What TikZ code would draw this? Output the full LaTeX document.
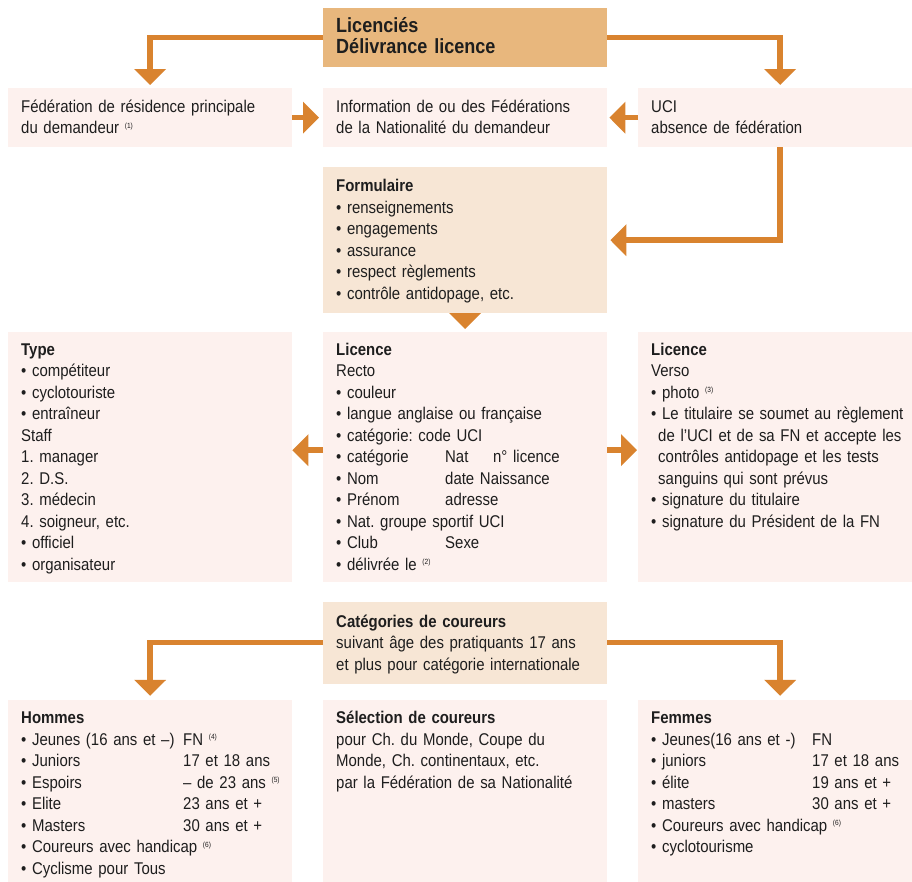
\documentclass[tikz,border=0pt]{standalone}
\usepackage{fontspec}
\setmainfont{Liberation Sans}[FakeStretch=0.88]
\usetikzlibrary{arrows.meta}

\definecolor{licorange}{HTML}{E8B77D}
\definecolor{licpeach}{HTML}{F7E6D5}
\definecolor{licpink}{HTML}{FDF1EE}
\definecolor{licarrow}{HTML}{D9832F}
\definecolor{licink}{HTML}{1E1E1E}

\newcommand{\fnmark}[1]{\raisebox{5.5pt}{\fontsize{7.5}{7.5}\selectfont(#1)}}
\newcommand{\tabline}[3]{\mbox{\makebox[#1][l]{#2}#3}}

\tikzset{
  panel/.style={anchor=north west, inner xsep=13pt, inner ysep=0pt, text width=258pt, align=left,
    text height=24pt, text=licink, font=\fontsize{17}{21.5}\selectfont\frenchspacing},
  headbox/.style={panel, fill=licorange, font=\fontsize{20.5}{21.7}\selectfont\bfseries},
  peachbox/.style={panel, fill=licpeach},
  pinkbox/.style={panel, fill=licpink},
  flow/.style={draw=licarrow, line width=5.5pt, -{Triangle[length=16pt, width=31pt]}},
}

\begin{document}
\begin{tikzpicture}[x=1pt, y=-1pt]
	\useasboundingbox (0,0) rectangle (912,881);
	% first rows
	\node (lic) [headbox, text depth=35pt] at (323,8) {Licenciés\\Délivrance licence};
	\node (fed) [pinkbox, text depth=35pt] at (8,88) {Fédération de résidence principale\\du demandeur \fnmark{1}};
	\node (info) [pinkbox, text depth=35pt] at (323,88) {Information de ou des Fédérations\\de la Nationalité du demandeur};
	\node (uci) [pinkbox, text depth=35pt] at (638,88) {UCI\\absence de fédération};
	\node (form) [peachbox, text height=24.5pt, text depth=121.5pt] at (323,167) {\textbf{Formulaire}\\• renseignements\\• engagements\\• assurance\\• respect règlements\\• contrôle antidopage, etc.};
	
	% licence
	\node (type) [pinkbox, text height=23pt, text depth=227pt] at (8,332) {\textbf{Type}\\• compétiteur\\• cyclotouriste\\• entraîneur\\Staff\\1. manager\\2. D.S.\\3. médecin\\4. soigneur, etc.\\• officiel\\• organisateur};
	\node (recto) [pinkbox, text height=23pt, text depth=227pt] at (323,332) {\textbf{Licence}\\Recto\\• couleur\\• langue anglaise ou française\\• catégorie: code UCI\\\tabline{109pt}{• catégorie}{\makebox[48pt][l]{Nat}n° licence}\\\tabline{109pt}{• Nom}{date Naissance}\\\tabline{109pt}{• Prénom}{adresse}\\• Nat. groupe sportif UCI\\\tabline{109pt}{• Club}{Sexe}\\• délivrée le \fnmark{2}};
	\node (verso) [pinkbox, text height=23pt, text depth=227pt] at (638,332) {\textbf{Licence}\\Verso\\• photo \fnmark{3}\\\mbox{• Le titulaire se soumet au règlement}\\\hspace*{7pt}de l'UCI et de sa FN et accepte les\\\hspace*{7pt}contrôles antidopage et les tests\\\hspace*{7pt}sanguins qui sont prévus\\• signature du titulaire\\• signature du Président de la FN};
	
	% categories
	\node (cat) [peachbox, text height=25.5pt, text depth=56.5pt] at (323,601.5) {\textbf{Catégories de coureurs}\\suivant âge des pratiquants 17 ans\\et plus pour catégorie internationale};
	\node (hom) [pinkbox, text depth=166pt] at (8,699.3) {\textbf{Hommes}\\\tabline{162pt}{• Jeunes (16 ans et –)}{FN \fnmark{4}}\\\tabline{162pt}{• Juniors}{17 et 18 ans}\\\tabline{162pt}{• Espoirs}{– de 23 ans \fnmark{5}}\\\tabline{162pt}{• Elite}{23 ans et +}\\\tabline{162pt}{• Masters}{30 ans et +}\\• Coureurs avec handicap \fnmark{6}\\• Cyclisme pour Tous};
	\node (sel) [pinkbox, text depth=166pt] at (323,699.3) {\textbf{Sélection de coureurs}\\pour Ch. du Monde, Coupe du\\Monde, Ch. continentaux, etc.\\par la Fédération de sa Nationalité};
	\node (fem) [pinkbox, text depth=166pt] at (638,699.3) {\textbf{Femmes}\\\tabline{161pt}{• Jeunes(16 ans et -)}{FN}\\\tabline{161pt}{• juniors}{17 et 18 ans}\\\tabline{161pt}{• élite}{19 ans et +}\\\tabline{161pt}{• masters}{30 ans et +}\\• Coureurs avec handicap \fnmark{6}\\• cyclotourisme};
	
	\draw [flow, shorten >=3pt] (lic.west) -| (fed.north);
	\draw [flow, shorten >=3pt] (lic.east) -| (uci.north);
	\draw [flow, shorten >=4pt] (fed.east) -- (info.west);
	\draw [flow, shorten >=2pt] (uci.west) -- (info.east);
	\draw [flow, shorten >=3pt] (uci.south) |- (form.east);
	\draw [flow, shorten >=3pt] (form.south) -- (recto.north);
	
	\draw [flow] ([yshift=7pt]recto.west) -- ([yshift=7pt]type.east);
	\draw [flow, shorten >=1pt] ([yshift=7pt]recto.east) -- ([yshift=7pt]verso.west);
	\draw [flow, shorten >=3.5pt] (cat.west) -| (hom.north);
	\draw [flow, shorten >=3.5pt] (cat.east) -| (fem.north);
\end{tikzpicture}
\end{document}
